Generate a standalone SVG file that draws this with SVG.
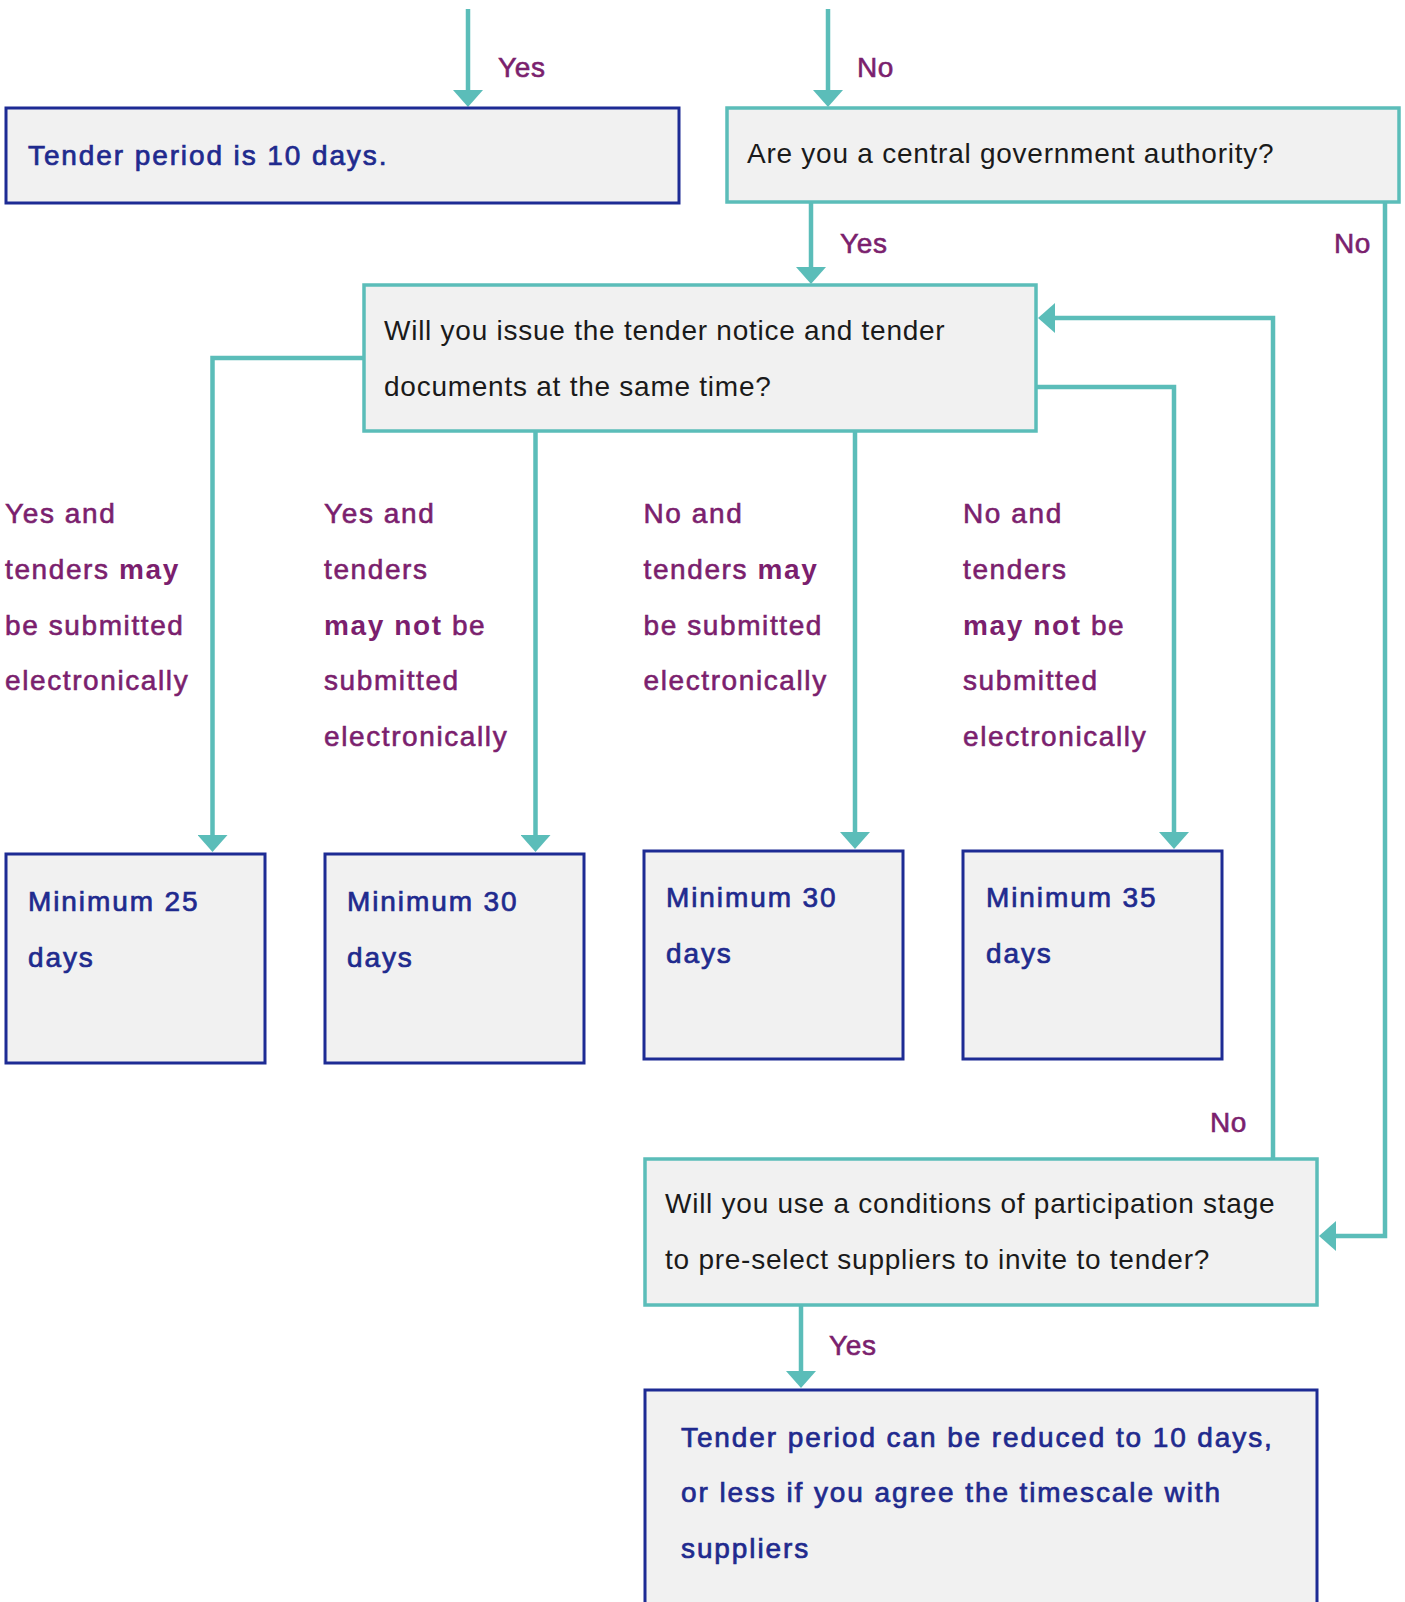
<svg xmlns="http://www.w3.org/2000/svg" width="1405" height="1602" viewBox="0 0 1405 1602">
  <style>
    .q { fill: #f1f1f1; stroke: #5bbdb9; stroke-width: 3.5; }
    .r { fill: #f1f1f1; stroke: #1d2b94; stroke-width: 3; }
    .qt { font-family: "Liberation Sans", Arial, sans-serif; font-size: 28px; fill: #1a1a1a; letter-spacing: 0.75px; }
    .rt { font-family: "Liberation Sans", Arial, sans-serif; font-size: 28px; fill: #1f2a8e; stroke: #1f2a8e; stroke-width: 0.7; letter-spacing: 1.9px; }
    .lb { font-family: "Liberation Sans", Arial, sans-serif; font-size: 28px; fill: #7b1f6e; stroke: #7b1f6e; stroke-width: 0.6; letter-spacing: 0.6px; }
    .cl { font-family: "Liberation Sans", Arial, sans-serif; font-size: 28px; fill: #7b1f6e; stroke: #7b1f6e; stroke-width: 0.6; letter-spacing: 1.6px; }
    .b { font-weight: bold; stroke-width: 0; }
    .c { fill: none; stroke: #5bbdb9; stroke-width: 4.5; marker-end: url(#arr); }
  </style>
  <defs>
    <marker id="arr" markerUnits="userSpaceOnUse" markerWidth="17" markerHeight="30" viewBox="0 0 17 30" refX="3" refY="15" orient="auto">
      <path d="M0,0 L17,15 L0,30 z" fill="#5bbdb9"/>
    </marker>
  </defs>

  <!-- connectors -->
  <g id="connectors">
    <path class="c" d="M468,9 V93"/>
    <path class="c" d="M828,9 V93"/>
    <path class="c" d="M811,202 V270"/>
    <path class="c" d="M364,358 H212.5 V838"/>
    <path class="c" d="M535.5,431 V838"/>
    <path class="c" d="M855,431 V835"/>
    <path class="c" d="M1036,387 H1174 V835"/>
    <path class="c" d="M1273,1159 V318 H1052"/>
    <path class="c" d="M1385,202 V1236 H1333"/>
    <path class="c" d="M801,1305 V1374"/>
  </g>

  <!-- connector labels -->
  <g id="labels">
    <text class="lb" x="498" y="77">Yes</text>
    <text class="lb" x="857" y="77">No</text>
    <text class="lb" x="840" y="253">Yes</text>
    <text class="lb" x="1334" y="253">No</text>
    <text class="lb" x="1210" y="1132">No</text>
    <text class="lb" x="829" y="1355">Yes</text>

    <text class="cl" x="5" y="523">Yes and</text>
    <text class="cl" x="5" y="579">tenders <tspan class="b">may</tspan></text>
    <text class="cl" x="5" y="634.5">be submitted</text>
    <text class="cl" x="5" y="690">electronically</text>

    <text class="cl" x="324" y="523">Yes and</text>
    <text class="cl" x="324" y="579">tenders</text>
    <text class="cl" x="324" y="634.5"><tspan class="b">may not</tspan> be</text>
    <text class="cl" x="324" y="690">submitted</text>
    <text class="cl" x="324" y="746">electronically</text>

    <text class="cl" x="643.5" y="523">No and</text>
    <text class="cl" x="643.5" y="579">tenders <tspan class="b">may</tspan></text>
    <text class="cl" x="643.5" y="634.5">be submitted</text>
    <text class="cl" x="643.5" y="690">electronically</text>

    <text class="cl" x="963" y="523">No and</text>
    <text class="cl" x="963" y="579">tenders</text>
    <text class="cl" x="963" y="634.5"><tspan class="b">may not</tspan> be</text>
    <text class="cl" x="963" y="690">submitted</text>
    <text class="cl" x="963" y="746">electronically</text>
  </g>

  <g id="ten-days">
    <rect class="r" x="6" y="108" width="673" height="95"/>
    <text class="rt" x="28" y="165">Tender period is 10 days.</text>
  </g>

  <g id="central-gov">
    <rect class="q" x="727" y="108" width="672" height="94"/>
    <text class="qt" x="747" y="163">Are you a central government authority?</text>
  </g>

  <g id="same-time">
    <rect class="q" x="364" y="285" width="672" height="146"/>
    <text class="qt" x="384" y="340">Will you issue the tender notice and tender</text>
    <text class="qt" x="384" y="396">documents at the same time?</text>
  </g>

  <g id="min-25">
    <rect class="r" x="6" y="854" width="259" height="209"/>
    <text class="rt" x="28" y="911">Minimum 25</text>
    <text class="rt" x="28" y="967">days</text>
  </g>

  <g id="min-30a">
    <rect class="r" x="325" y="854" width="259" height="209"/>
    <text class="rt" x="347" y="911">Minimum 30</text>
    <text class="rt" x="347" y="967">days</text>
  </g>

  <g id="min-30b">
    <rect class="r" x="644" y="851" width="259" height="208"/>
    <text class="rt" x="666" y="907">Minimum 30</text>
    <text class="rt" x="666" y="963">days</text>
  </g>

  <g id="min-35">
    <rect class="r" x="963" y="851" width="259" height="208"/>
    <text class="rt" x="986" y="907">Minimum 35</text>
    <text class="rt" x="986" y="963">days</text>
  </g>

  <g id="participation">
    <rect class="q" x="645" y="1159" width="672" height="146"/>
    <text class="qt" x="665" y="1213">Will you use a conditions of participation stage</text>
    <text class="qt" x="665" y="1269">to pre-select suppliers to invite to tender?</text>
  </g>

  <g id="reduced">
    <rect class="r" x="645" y="1390" width="672" height="240"/>
    <text class="rt" x="681" y="1447">Tender period can be reduced to 10 days,</text>
    <text class="rt" x="681" y="1502">or less if you agree the timescale with</text>
    <text class="rt" x="681" y="1558">suppliers</text>
  </g>
</svg>
